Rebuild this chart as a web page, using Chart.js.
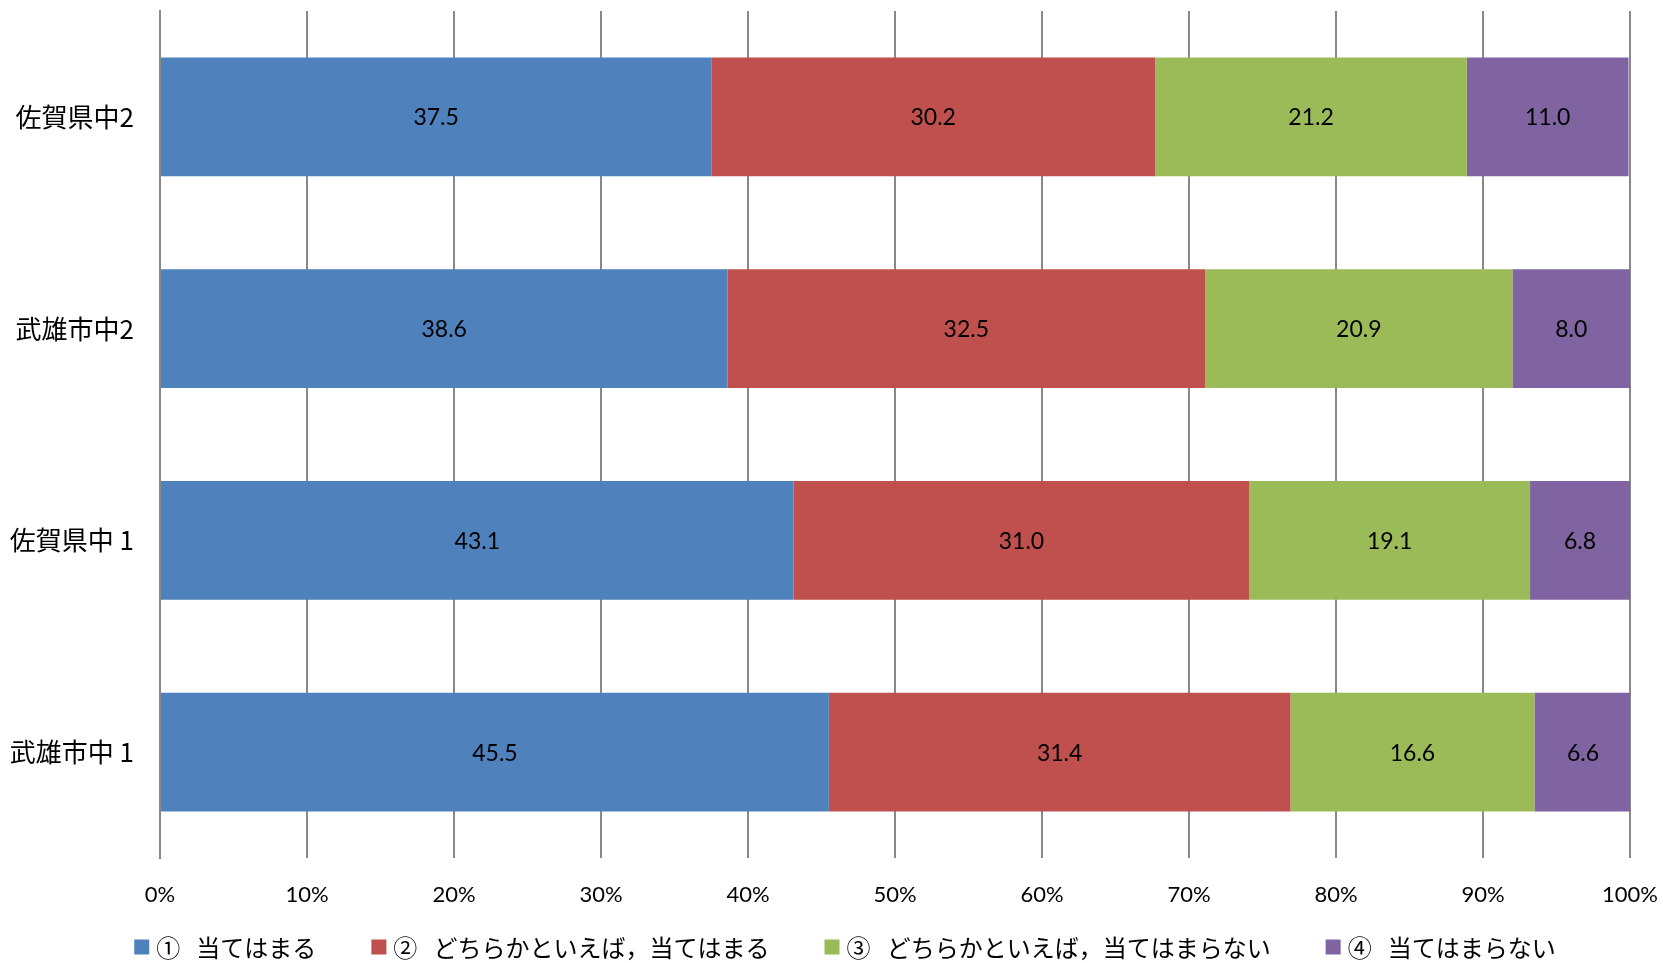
<!DOCTYPE html>
<html>
<head>
<meta charset="utf-8">
<script src="https://cdn.jsdelivr.net/npm/chart.js@4"></script>
<style>
  html, body { margin: 0; padding: 0; background: #fff; }
  #wrap { width: 1663px; height: 963px; }
</style>
</head>
<body>
<div id="wrap"><canvas id="chart" width="1663" height="963"></canvas></div>
<script>
// データ
const categories = ['佐賀県中2', '武雄市中2', '佐賀県中 1', '武雄市中 1'];
const seriesNames = ['①   当てはまる', '②   どちらかといえば，当てはまる', '③   どちらかといえば，当てはまらない', '④   当てはまらない'];
const s1 = [37.5, 38.6, 43.1, 45.5];
const s2 = [30.2, 32.5, 31.0, 31.4];
const s3 = [21.2, 20.9, 19.1, 16.6];
const s4 = [11.0, 8.0, 6.8, 6.6];
const xTicks = [0, 10, 20, 30, 40, 50, 60, 70, 80, 90, 100];

const colors = ['#4F81BD', '#C0504D', '#9BBB59', '#8064A2'];
const latin = "Lato, 'Noto Sans CJK JP', sans-serif";
const jp = "'Noto Sans CJK JP', sans-serif";

// バーの中央に数値を描く（datalabels の代わり）
const centerLabels = {
  id: 'centerLabels',
  afterDatasetsDraw(chart) {
    const ctx = chart.ctx;
    ctx.save();
    ctx.font = '23px ' + latin;
    ctx.fillStyle = '#000';
    ctx.textAlign = 'center';
    ctx.textBaseline = 'middle';
    chart.data.datasets.forEach((ds, di) => {
      chart.getDatasetMeta(di).data.forEach((bar, i) => {
        const p = bar.getProps(['x', 'y', 'base'], true);
        ctx.fillText(ds.data[i].toFixed(1), (p.x + p.base) / 2, p.y + 1);
      });
    });
    ctx.restore();
  }
};

// 凡例（下部）
const bottomLegend = {
  id: 'bottomLegend',
  afterDraw(chart) {
    const ctx = chart.ctx;
    const box = 15, gapBox = 7, gapItem = 55;
    const y = 947;
    ctx.save();
    ctx.font = '24px ' + jp;
    ctx.textBaseline = 'middle';
    const items = chart.data.datasets.map(ds => ({
      text: ds.label, color: ds.backgroundColor, w: ctx.measureText(ds.label).width
    }));
    const total = items.reduce((a, it) => a + box + gapBox + it.w, 0) + gapItem * (items.length - 1);
    let x = 845 - total / 2;
    items.forEach(it => {
      ctx.fillStyle = it.color;
      ctx.fillRect(x, y - box / 2, box, box);
      ctx.fillStyle = '#000';
      ctx.fillText(it.text, x + box + gapBox, y + 1);
      x += box + gapBox + it.w + gapItem;
    });
    ctx.restore();
  }
};

const datasets = [s1, s2, s3, s4].map((d, i) => ({
  label: seriesNames[i],
  data: d,
  backgroundColor: colors[i],
  borderWidth: 0,
  barPercentage: 1,
  categoryPercentage: 0.56
}));

new Chart(document.getElementById('chart'), {
  type: 'bar',
  data: { labels: categories, datasets: datasets },
  options: {
    indexAxis: 'y',
    responsive: false,
    animation: false,
    layout: { padding: { top: 11, right: 33, left: 0, bottom: 48 } },
    scales: {
      x: {
        stacked: true,
        min: 0,
        max: 100,
        afterBuildTicks: s => { s.ticks = xTicks.map(v => ({ value: v })); },
        grid: { color: '#888888', lineWidth: 2, drawTicks: false },
        border: { display: false },
        ticks: {
          color: '#000',
          font: { family: latin, size: 22 },
          padding: 24,
          callback: v => v + '%'
        },
        afterFit: s => { s.height = 57; s.paddingLeft = 0; s.paddingRight = 0; }
      },
      y: {
        stacked: true,
        grid: { display: false },
        border: { color: '#888888', width: 2 },
        ticks: {
          color: '#000',
          font: { family: jp, size: 26 },
          padding: 18
        },
        afterFit: s => { s.width = 160; s.paddingTop = 0; s.paddingBottom = 0; }
      }
    },
    plugins: {
      legend: { display: false },
      tooltip: { enabled: false }
    }
  },
  plugins: [centerLabels, bottomLegend]
});
</script>
</body>
</html>
